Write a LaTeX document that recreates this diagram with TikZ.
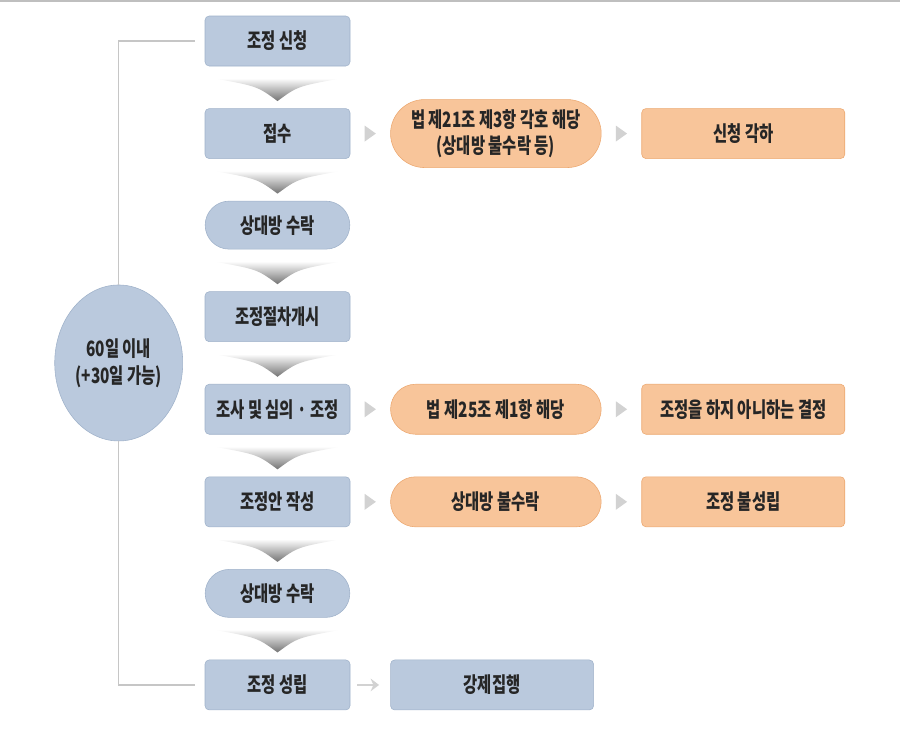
\documentclass[tikz,border=0pt]{standalone}
\usepackage{fontspec}
\setmainfont{Noto Sans CJK KR}[FakeStretch=0.73]
\usetikzlibrary{positioning,calc,shapes.misc,shapes.geometric,arrows.meta}

\definecolor{stepblue}{RGB}{186,201,221}
\definecolor{stepblueline}{RGB}{160,178,202}
\definecolor{steporange}{RGB}{248,197,154}
\definecolor{steporangeline}{RGB}{236,168,112}
\definecolor{textgray}{RGB}{38,38,38}

\begin{document}
\begin{tikzpicture}[
node distance=1.05cm and 1cm,
every node/.style={align=center, text=textgray, font=\bfseries\fontsize{15}{19}\selectfont},
bluebox/.style={draw=stepblueline, fill=stepblue, rounded corners=3pt, minimum width=3.625cm, minimum height=1.25cm},
bluepill/.style={draw=stepblueline, fill=stepblue, rounded rectangle, minimum width=3.85cm, minimum height=1.2cm},
orangepill/.style={draw=steporangeline, fill=steporange, rounded rectangle, minimum width=5.5cm, minimum height=1.25cm},
orangebox/.style={draw=steporangeline, fill=steporange, rounded corners=3pt, minimum width=5.075cm, minimum height=1.25cm},
chevron/.style={top color=white, bottom color=black!55},
pointer/.style={fill=gray!35},
bracket/.style={draw=gray!45, line width=0.8pt},
thinarrow/.style={-{Stealth[length=6pt,width=9pt]}, line width=1.8pt, draw=gray!35, shorten <=0.18cm, shorten >=0.28cm}
]
\useasboundingbox (0,0) rectangle (22.5,-18.325);
\draw[gray!50, line width=1pt] (0,-0.02) -- (22.5,-0.02);

% main column
\node (apply) [bluebox] at (6.9375,-1.025) {조정 신청};
\node (receive) [bluebox, below=of apply] {접수};
\node (accept) [bluepill, below=of receive] {상대방 수락};
\node (start) [bluebox, below=of accept] {조정절차개시};
\node (examine) [bluebox, below=of start] {조사 및 심의 · 조정};
\node (draft) [bluebox, below=of examine] {조정안 작성};
\node (agree) [bluepill, below=of draft] {상대방 수락};
\node (settle) [bluebox, below=of agree] {조정 성립};

% side branches
\node (law21) [orangepill, minimum height=1.7cm, right=of receive] {법 제21조 제3항 각호 해당\\(상대방 불수락 등)};
\node (dismiss) [orangebox, right=of law21] {신청 각하};
\node (law25) [orangepill, right=of examine] {법 제25조 제1항 해당};
\node (nodecision) [orangebox, right=of law25] {조정을 하지 아니하는 결정};
\node (refuse) [orangepill, right=of draft] {상대방 불수락};
\node (fail) [orangebox, right=of refuse] {조정 불성립};
\node (enforce) [bluebox, minimum width=5.075cm, right=of settle] {강제집행};

% time limit
\node (period) [ellipse, draw=stepblueline, fill=stepblue, inner sep=0pt, minimum width=3.2cm, minimum height=3.9cm]
  at ($(apply.west)!0.5!(settle.west)+(-2.15,0)$) {60일 이내\\(+30일 가능)};
\draw[bracket] ([xshift=-0.25cm]apply.west) -| (period.north);
\draw[bracket] ([xshift=-0.25cm]settle.west) -| (period.south);

\foreach \a/\b in {apply/receive, receive/accept, accept/start, start/examine, examine/draft, draft/agree, agree/settle}
  \shade[chevron] ([shift={(-1.6,-0.3)}]\a.south) -- ([shift={(1.6,-0.3)}]\a.south)
    .. controls ([shift={(0.5,-0.5)}]\a.south) .. ([yshift=0.18cm]\b.north)
    .. controls ([shift={(-0.5,-0.5)}]\a.south) .. cycle;

\foreach \a/\b in {receive/law21, law21/dismiss, examine/law25, law25/nodecision, draft/refuse, refuse/fail}
  \fill[pointer] ($(\a.east)!0.5!(\b.west)$) ++(-0.14,0.2) -- ++(0.28,-0.2) -- ++(-0.28,-0.2) -- cycle;

\draw[thinarrow] (settle) -- (enforce);
\end{tikzpicture}
\end{document}
